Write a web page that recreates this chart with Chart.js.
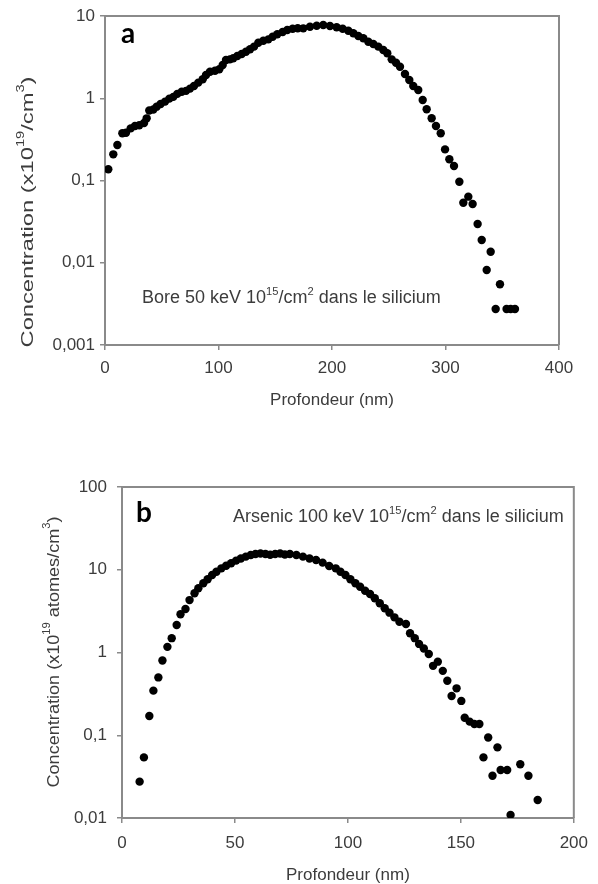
<!DOCTYPE html>
<html><head><meta charset="utf-8">
<script src="https://cdn.jsdelivr.net/npm/chart.js@4.4.1/dist/chart.umd.min.js"></script>
<style>
html,body{margin:0;padding:0;background:#fff;width:598px;height:884px;overflow:hidden}
canvas{position:absolute;left:0}
</style></head>
<body>
<canvas id="c1" width="598" height="420" style="top:0;width:598px;height:420px"></canvas>
<canvas id="c2" width="598" height="464" style="top:420px;width:598px;height:464px"></canvas>
<script>
// ---- Data: chart a (Bore) ----
const boreDepth = [2.9,7.3,10.9,15.3,18.5,22.6,26.4,30.2,34.4,36.7,39,42.6,45.5,49,52.9,56.7,60.2,63.7,67.6,71.4,74.9,78.4,82.2,86.1,89,92.5,96.9,100.7,103.7,106.6,110,113,116.6,120.4,124.2,127.8,131.3,135.1,139.5,143.9,147.7,151.8,156.5,160.6,165.3,169.8,174.7,180.6,186.5,192.3,198.2,204.1,209.4,214.4,218.8,223.2,227.6,232,236.4,240.8,245.2,248.7,252.6,256.4,259.9,264.3,268.1,271.6,276,279.9,283.4,287.8,291.6,295.8,299.6,303.4,307.5,312.2,315.7,320.1,323.9,328.3,331.9,336.3,339.8,344.2,348,353.8,357.4,361.2];
const boreConc = [0.137,0.208,0.27,0.375,0.38,0.43,0.46,0.47,0.50,0.57,0.71,0.73,0.79,0.85,0.91,0.99,1.04,1.13,1.2,1.23,1.31,1.41,1.55,1.70,1.92,2.1,2.16,2.25,2.54,2.92,2.97,3.06,3.27,3.45,3.68,3.94,4.24,4.73,5.0,5.2,5.6,6.0,6.4,6.76,7.0,7.1,7.08,7.4,7.6,7.77,7.56,7.3,7.0,6.63,6.17,5.71,5.36,4.87,4.57,4.24,3.86,3.52,2.97,2.7,2.42,1.97,1.67,1.41,1.26,0.953,0.734,0.571,0.46,0.375,0.239,0.181,0.15,0.0966,0.0537,0.0636,0.0518,0.0296,0.0189,0.00817,0.0136,0.00274,0.00547,0.00274,0.00274,0.00274];
const boreYTicks = [0.001,0.01,0.1,1,10];
const boreYLabels = ['0,001','0,01','0,1','1','10'];
const boreXTicks = [0,100,200,300,400];

// ---- Data: chart b (Arsenic) ----
const asDepth = [7.8,9.7,12.1,13.9,16.1,17.9,20.1,22,24.2,25.9,28.1,29.9,32.1,33.8,36,37.9,39.9,41.8,44,46.1,48.3,50.5,52.6,54.8,57,59.1,61.3,63.5,65.6,67.8,70,72.1,74.3,77.2,80.1,83,85.9,88.8,91.7,94.6,96.7,98.9,101.1,103.3,105.4,107.6,109.8,111.9,114.1,116.3,118.4,120.6,122.8,125.7,127.5,129.6,131.5,133.6,135.8,137.7,139.8,142,144,145.9,148.1,150.2,151.7,153.9,156,158.2,160,162.1,164,166.2,167.6,170.5,172,176.3,179.9,184];
const asConc = [0.0275,0.054,0.171,0.346,0.50,0.80,1.17,1.49,2.15,2.9,3.36,4.3,5.19,5.97,6.86,7.67,8.65,9.47,10.4,11.2,12,12.9,13.7,14.4,15.1,15.5,15.7,15.5,15.2,15.5,15.7,15.3,15.5,15.1,14.4,13.7,13.1,12.2,11.1,10.4,9.47,8.65,7.67,6.86,6.24,5.58,5.09,4.52,3.93,3.42,3.03,2.66,2.35,2.21,1.71,1.49,1.27,1.12,0.96,0.69,0.775,0.60,0.456,0.298,0.369,0.26,0.163,0.146,0.137,0.137,0.054,0.094,0.0324,0.0714,0.038,0.038,0.0109,0.0446,0.0324,0.0165];
const asYTicks = [0.01,0.1,1,10,100];
const asYLabels = ['0,01','0,1','1','10','100'];
const asXTicks = [0,50,100,150,200];

const FAM = '"Liberation Sans", Arial, Helvetica, sans-serif';
const AXIS = '#8a8a8a';
const TXT = '#3c3c3c';

function drawRich(ctx, x, y, parts, size) {
  let cx = x;
  for (const p of parts) {
    const s = p.sup ? size * 0.62 : size;
    ctx.font = s + 'px ' + FAM;
    ctx.fillText(p.t, cx, p.sup ? y - size * 0.42 : y);
    cx += ctx.measureText(p.t).width;
  }
  return cx - x;
}
function richWidth(ctx, parts, size) {
  let w = 0;
  for (const p of parts) {
    ctx.font = (p.sup ? size * 0.62 : size) + 'px ' + FAM;
    w += ctx.measureText(p.t).width;
  }
  return w;
}

function makeChart(id, cfg) {
  const canvas = document.getElementById(id);
  const W = canvas.width, H = canvas.height;
  const A = cfg.area;
  const deco = {
    id: 'deco_' + id,
    afterDraw(chart) {
      const ctx = chart.ctx;
      const ca = chart.chartArea;
      ctx.save();
      // frame top and right
      ctx.strokeStyle = AXIS; ctx.lineWidth = 2;
      ctx.beginPath();
      ctx.moveTo(ca.left, ca.top); ctx.lineTo(ca.right, ca.top); ctx.lineTo(ca.right, ca.bottom);
      ctx.stroke();
      // panel letter
      ctx.fillStyle = '#000';
      ctx.font = 'bold 28px Lato, "Open Sans", sans-serif';
      ctx.textBaseline = 'alphabetic';
      ctx.fillText(cfg.letter.t, cfg.letter.x, cfg.letter.y);
      // annotation
      ctx.fillStyle = TXT;
      drawRich(ctx, cfg.note.x, cfg.note.y, cfg.note.parts, 18);
      // x title
      ctx.font = '17px ' + FAM;
      ctx.textAlign = 'center'; ctx.textBaseline = 'middle';
      ctx.fillText(cfg.xTitle.t, (ca.left + ca.right) / 2, cfg.xTitle.y);
      // y title (rotated, stretched along its length)
      ctx.textAlign = 'left'; ctx.textBaseline = 'middle';
      const yt = cfg.yTitle;
      const w = richWidth(ctx, yt.parts, 17);
      ctx.translate(yt.x, yt.y);
      ctx.rotate(-Math.PI / 2);
      ctx.scale(yt.len / w, 1);
      drawRich(ctx, -w / 2, 0, yt.parts, 17);
      ctx.restore();
    }
  };
  return new Chart(canvas, {
    type: 'scatter',
    data: {
      datasets: [{
        data: cfg.xs.map((x, i) => ({x: x, y: cfg.ys[i]})),
        backgroundColor: '#000', borderColor: '#000',
        pointRadius: 4.2, pointHoverRadius: 4.2, borderWidth: 0
      }]
    },
    options: {
      responsive: false, animation: false, devicePixelRatio: 1,
      layout: {padding: {left: 0, top: A.top, right: W - A.right, bottom: 0}},
      plugins: {legend: {display: false}, tooltip: {enabled: false}},
      scales: {
        x: {
          type: 'linear', min: cfg.xTicks[0], max: cfg.xTicks[cfg.xTicks.length - 1],
          afterBuildTicks: s => { s.ticks = cfg.xTicks.map(v => ({value: v})); },
          afterFit: s => { s.height = H - A.bottom; },
          border: {display: true, color: AXIS, width: 2},
          grid: {display: true, drawOnChartArea: false, drawTicks: true, tickLength: 5, color: AXIS, lineWidth: 1.5},
          ticks: {color: TXT, font: {family: FAM, size: 17}, padding: cfg.xPad, maxRotation: 0,
                  callback: v => String(v)}
        },
        y: {
          type: 'logarithmic', min: cfg.yTicks[0], max: cfg.yTicks[cfg.yTicks.length - 1],
          afterBuildTicks: s => { s.ticks = cfg.yTicks.map(v => ({value: v})); },
          afterFit: s => { s.width = A.left; },
          border: {display: true, color: AXIS, width: 2},
          grid: {display: true, drawOnChartArea: false, drawTicks: true, tickLength: 5, color: AXIS, lineWidth: 1.5},
          ticks: {color: TXT, font: {family: FAM, size: 17}, padding: cfg.yPad,
                  callback: (v) => { const k = cfg.yTicks.indexOf(v); return k >= 0 ? cfg.yLabels[k] : ''; }}
        }
      }
    },
    plugins: [deco]
  });
}

makeChart('c1', {
  xs: boreDepth, ys: boreConc, xTicks: boreXTicks, yTicks: boreYTicks, yLabels: boreYLabels,
  area: {left: 105, top: 16, right: 559, bottom: 345},
  xPad: 8, yPad: 5,
  letter: {t: 'a', x: 121, y: 43},
  note: {x: 142, y: 303, parts: [{t: 'Bore 50 keV 10'}, {t: '15', sup: true}, {t: '/cm'}, {t: '2', sup: true}, {t: ' dans le silicium'}]},
  xTitle: {t: 'Profondeur (nm)', y: 400},
  yTitle: {x: 28, y: 212, len: 271, parts: [{t: 'Concentration (x10'}, {t: '19', sup: true}, {t: '/cm'}, {t: '3', sup: true}, {t: ')'}]}
});

makeChart('c2', {
  xs: asDepth, ys: asConc, xTicks: asXTicks, yTicks: asYTicks, yLabels: asYLabels,
  area: {left: 122, top: 67, right: 583, bottom: 398},
  xPad: 10, yPad: 10,
  letter: {t: 'b', x: 136, y: 102},
  note: {x: 233, y: 102, parts: [{t: 'Arsenic 100 keV 10'}, {t: '15', sup: true}, {t: '/cm'}, {t: '2', sup: true}, {t: ' dans le silicium'}]},
  xTitle: {t: 'Profondeur (nm)', y: 455},
  yTitle: {x: 54, y: 232, len: 271, parts: [{t: 'Concentration (x10'}, {t: '19', sup: true}, {t: ' atomes/cm'}, {t: '3', sup: true}, {t: ')'}]}
});
</script>
</body></html>
